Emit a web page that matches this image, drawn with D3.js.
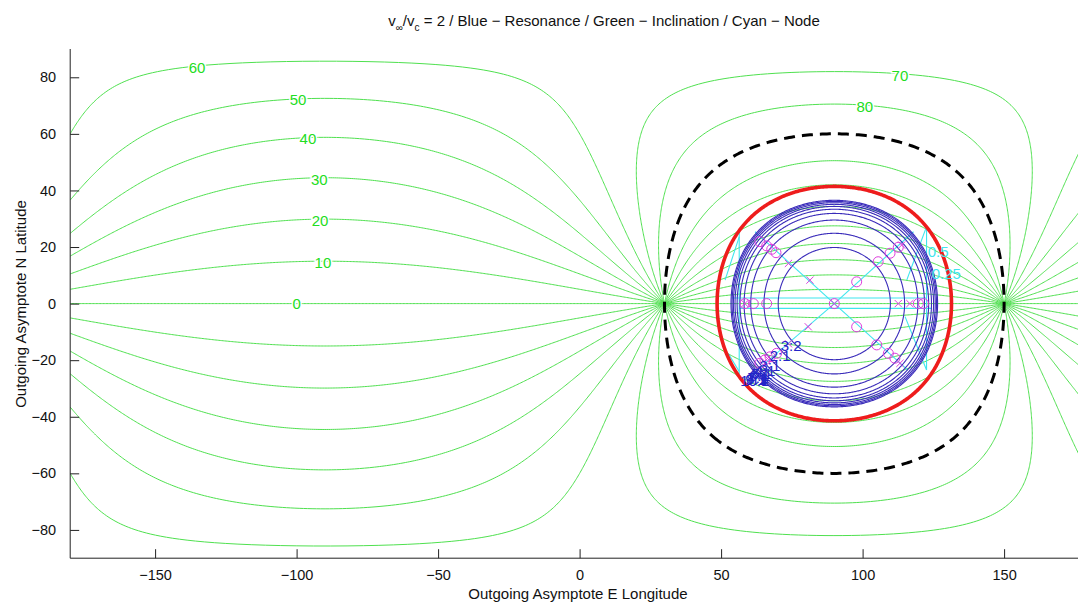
<!DOCTYPE html>
<html>
<head>
<meta charset="utf-8">
<script src="https://cdn.jsdelivr.net/npm/d3@7"></script>
<style>
  html, body { margin: 0; padding: 0; background: #ffffff; }
  svg { display: block; font-family: "Liberation Sans", Arial, Helvetica, sans-serif; }
</style>
</head>
<body>
<svg id="chart" width="1078" height="605"></svg>
<script>
// ---------------- DATA ----------------
// Inclination contours (deg): small circles on the sphere, centre lon 90, centre lat, angular radius
const inclinationLevels    = [0, 10, 20, 30, 40, 50, 60, 70, 80, 100, 110, 120, 130, 140, 150, 160, 170];
const inclinationCenterLat = [90, 80, 70, 60, 50, 40, 30, 20, 10, -10, -20, -30, -40, -50, -60, -70, -80];
const inclinationRadius    = [90, 85.02, 80.15, 75.52, 71.25, 67.48, 64.34, 61.98, 60.50, 60.50, 61.98, 64.34, 67.48, 71.25, 75.52, 80.15, 85.02];

// Polar (90 deg) contour drawn dashed black
const polarCenter = [90, 0];
const polarRadius = 60;

// Inclination labels
const inclLabelText = ["60", "50", "40", "30", "20", "10", "0", "70", "80"];
const inclLabelLon  = [-135.2, -99.5, -96, -92, -91.7, -90.7, -100, 113.2, 100.8];
const inclLabelLat  = [83.4, 72, 58.5, 44, 29.5, 14.7, 0, 80.8, 69.7];

// Resonance circles (angular radius about lon 90, lat 0)
const resonanceLabels = ["3:2", "2:1", "3:1", "4:1", "5:1", "6:1", "7:1", "8:1", "9:1", "10:1"];
const resonanceRadius = [19.82, 24.84, 29.52, 31.87, 33.34, 34.34, 35.08, 35.66, 36.12, 36.50];

// Escape boundary
const escapeRadius = 41.41;

// Node contours (lon, lat polylines)
const nodeLines = [
  [[90, 0], [62.0, 25.4]],
  [[90, 0], [60.3, -25.6]],
  [[90, 0], [118.0, 25.4]],
  [[90, 0], [116.0, -23.5]],
  [[56.4, 25.4], [56.4, -25.0]],
  [[122.6, 27.2], [122.6, -23.5]],
  [[53.7, 2.0], [122.6, 2.0]],
  [[56.4, -1.7], [124.5, -1.7]],
  [[56.4, 23.6], [51.4, 8.3]],
  [[56.4, -24.0], [52.5, -17.6]],
  [[122.6, 27.2], [115.6, 8.3]],
  [[115.0, -4.6], [122.6, -23.5]]
];
const nodeLabelText = ["0.5", "0.25"];
const nodeLabelLon  = [126.7, 129.6];
const nodeLabelLat  = [18.3, 10.8];

// Magenta markers (lon, lat)
const markerCircles = [
  [63.7, 21.9], [66.1, 20.4], [67.9, 19.2], [69.4, 18.0],
  [63.7, -21.1], [65.5, -19.9], [67.3, -18.8], [69.6, -17.6],
  [97.9, 7.7], [105.5, 14.8], [109.7, 17.8], [112.6, 19.9],
  [97.9, -8.2], [105.0, -14.6], [109.1, -17.6], [111.4, -19.3],
  [58.4, 0], [61.4, 0], [66.1, 0], [119.7, 0], [121.5, 0], [90, 0]
];
const markerCrosses = [
  [73.8, 14.2], [81.4, 8.3], [80.8, -8.2], [73.8, -14.2], [66.4, -19.4],
  [113.8, 20.7], [113.2, -21.1],
  [58.4, 0], [112.6, 0], [116.7, 0], [90, 0]
];

// Axes
const xTicks = [-150, -100, -50, 0, 50, 100, 150];
const yTicks = [-80, -60, -40, -20, 0, 20, 40, 60, 80];
const xDomain = [-180, 180];
const yDomain = [-90, 90];

// ---------------- DRAW ----------------
const svg = d3.select("#chart");
const plot = { left: 70.2, right: 1089, top: 49, bottom: 558.2 };

const x = d3.scaleLinear().domain(xDomain).range([plot.left, plot.right]);
const y = d3.scaleLinear().domain(yDomain).range([plot.bottom, plot.top]);

const degPx = (plot.right - plot.left) / 360;
const projection = d3.geoEquirectangular()
  .scale(degPx * 180 / Math.PI)
  .translate([x(0), y(0)])
  .precision(0.1);
const geoPath = d3.geoPath(projection);

const circleLine = (center, radius) => ({
  type: "LineString",
  coordinates: d3.geoCircle().center(center).radius(radius).precision(0.5)().coordinates[0]
});

svg.append("defs").append("clipPath").attr("id", "plotClip")
  .append("rect")
  .attr("x", plot.left).attr("y", plot.top)
  .attr("width", plot.right - plot.left).attr("height", plot.bottom - plot.top);

const g = svg.append("g").attr("clip-path", "url(#plotClip)");

// Green inclination contours
g.append("g").selectAll("path")
  .data(inclinationLevels.map((lv, i) => ({ lv, c: [90, inclinationCenterLat[i]], r: inclinationRadius[i] })))
  .join("path")
  .attr("d", d => geoPath(circleLine(d.c, d.r)))
  .attr("fill", "none")
  .attr("stroke", "#4fe04f")
  .attr("stroke-width", 1);

// Cyan node lines
const line = d3.line().x(d => x(d[0])).y(d => y(d[1]));
g.append("g").selectAll("path")
  .data(nodeLines)
  .join("path")
  .attr("d", line)
  .attr("fill", "none")
  .attr("stroke", "#3ee6ee")
  .attr("stroke-width", 1.1);

// Blue resonance circles
g.append("g").selectAll("path")
  .data(resonanceRadius)
  .join("path")
  .attr("d", r => geoPath(circleLine([90, 0], r)))
  .attr("fill", "none")
  .attr("stroke", "#3a2cba")
  .attr("stroke-width", 1.1);

// Dashed polar contour
g.append("path")
  .attr("d", geoPath(circleLine(polarCenter, polarRadius)))
  .attr("fill", "none")
  .attr("stroke", "#000")
  .attr("stroke-width", 3)
  .attr("stroke-dasharray", "11,7");

// Red escape circle
g.append("path")
  .attr("d", geoPath(circleLine([90, 0], escapeRadius)))
  .attr("fill", "none")
  .attr("stroke", "#ee1c1c")
  .attr("stroke-width", 3.6);

// Magenta markers
g.append("g").selectAll("circle")
  .data(markerCircles)
  .join("circle")
  .attr("cx", d => x(d[0])).attr("cy", d => y(d[1]))
  .attr("r", 5)
  .attr("fill", "none")
  .attr("stroke", "#dd3ddd")
  .attr("stroke-width", 1);

g.append("g").selectAll("path")
  .data(markerCrosses)
  .join("path")
  .attr("d", d => {
    const cx = x(d[0]), cy = y(d[1]), s = 3.6;
    return `M${cx - s},${cy - s}L${cx + s},${cy + s}M${cx - s},${cy + s}L${cx + s},${cy - s}`;
  })
  .attr("fill", "none")
  .attr("stroke", "#dd3ddd")
  .attr("stroke-width", 1);

// Resonance labels (along the SW diagonal; they crowd together as in the original)
g.append("g").selectAll("text")
  .data(resonanceLabels.map((t, i) => ({ t, r: resonanceRadius[i] })))
  .join("text")
  .attr("x", d => x(90 - 0.77 * d.r))
  .attr("y", d => y(-0.74 * d.r))
  .attr("text-anchor", "middle")
  .attr("dominant-baseline", "central")
  .attr("font-size", 15)
  .attr("fill", "#2424c8")
  .text(d => d.t);

// Node labels
g.append("g").selectAll("text")
  .data(nodeLabelText.map((t, i) => ({ t, lon: nodeLabelLon[i], lat: nodeLabelLat[i] })))
  .join("text")
  .attr("x", d => x(d.lon)).attr("y", d => y(d.lat))
  .attr("text-anchor", "middle")
  .attr("dominant-baseline", "central")
  .attr("font-size", 15)
  .attr("fill", "#3ee6ee")
  .text(d => d.t);

// Inclination labels
g.append("g").selectAll("text")
  .data(inclLabelText.map((t, i) => ({ t, lon: inclLabelLon[i], lat: inclLabelLat[i] })))
  .join("text")
  .attr("x", d => x(d.lon)).attr("y", d => y(d.lat))
  .attr("text-anchor", "middle")
  .attr("dominant-baseline", "central")
  .attr("font-size", 15)
  .attr("fill", "#22dd22")
  .attr("stroke", "#ffffff")
  .attr("stroke-width", 3)
  .attr("paint-order", "stroke")
  .text(d => d.t);

// Axes
const tickLen = 9;
const axisColor = "#222";
const fmt = v => (v < 0 ? "\u2212" + Math.abs(v) : String(v));

const xAxis = d3.axisBottom(x).tickValues(xTicks).tickSizeInner(-tickLen).tickSizeOuter(0).tickPadding(12).tickFormat(fmt);
const yAxis = d3.axisLeft(y).tickValues(yTicks).tickSizeInner(-tickLen).tickSizeOuter(0).tickPadding(14).tickFormat(fmt);

const gx = svg.append("g").attr("transform", `translate(0,${plot.bottom})`).call(xAxis);
const gy = svg.append("g").attr("transform", `translate(${plot.left},0)`).call(yAxis);
[gx, gy].forEach(a => {
  a.select(".domain").attr("stroke", axisColor).attr("stroke-width", 1);
  a.selectAll(".tick line").attr("stroke", axisColor).attr("stroke-width", 1);
  a.selectAll(".tick text").attr("fill", "#111").attr("font-size", 14.5)
    .attr("font-family", "\"Liberation Sans\", Arial, sans-serif");
});
gy.select(".domain").attr("d", `M0,${plot.top}V${plot.bottom}`);
gx.select(".domain").attr("d", `M${plot.left},0H${plot.right}`);

// Axis titles
svg.append("text")
  .attr("x", 578).attr("y", 599)
  .attr("text-anchor", "middle")
  .attr("font-size", 15)
  .attr("fill", "#111")
  .text("Outgoing Asymptote E Longitude");

svg.append("text")
  .attr("transform", `translate(26,${304}) rotate(-90)`)
  .attr("text-anchor", "middle")
  .attr("font-size", 15)
  .attr("fill", "#111")
  .text("Outgoing Asymptote N Latitude");

// Title with subscripts
const title = svg.append("text")
  .attr("x", 604).attr("y", 26)
  .attr("text-anchor", "middle")
  .attr("font-size", 15)
  .attr("fill", "#111");
title.append("tspan").text("v");
title.append("tspan").attr("font-size", 10).attr("dy", 5).text("\u221E");
title.append("tspan").attr("dy", -5).text("/v");
title.append("tspan").attr("font-size", 10).attr("dy", 5).text("c");
title.append("tspan").attr("dy", -5).text(" = 2 / Blue \u2212 Resonance / Green \u2212 Inclination / Cyan \u2212 Node");
</script>
</body>
</html>
